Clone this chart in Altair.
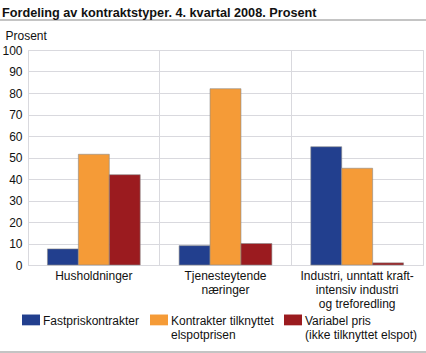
import altair as alt
import pandas as pd

categories = ["Husholdninger", "Tjenesteytende|næringer", "Industri, unntatt kraft-|intensiv industri|og treforedling"]
series = ["Fastpriskontrakter|", "Kontrakter tilknyttet|elspotprisen", "Variabel pris|(ikke tilknyttet elspot)"]
fastpris = [7.5, 9, 55]
elspot = [51.5, 82, 45]
variabel = [42, 10, 1]
colors = ["#223f8e", "#f59b37", "#9b1b1f"]
y_ticks = [0, 10, 20, 30, 40, 50, 60, 70, 80, 90, 100]

rows = []
for i, c in enumerate(categories):
    for s, vals in zip(series, [fastpris, elspot, variabel]):
        rows.append({"kategori": c, "serie": s, "verdi": vals[i]})
df = pd.DataFrame(rows)

FONT = "Liberation Sans"
W, H = 395, 215

bars = alt.Chart(df).mark_bar(stroke="#8a8a8a", strokeWidth=0.6).encode(
    x=alt.X("kategori:N", sort=categories, title=None,
            scale=alt.Scale(paddingInner=0, paddingOuter=0),
            axis=alt.Axis(labelExpr="split(datum.label, '|')", labelAngle=0,
                          labelFontSize=12, labelLineHeight=14, labelColor="#111",
                          labelFont=FONT, labelPadding=5, ticks=False, domain=False,
                          grid=True, bandPosition=0, gridColor="#d9d9de", gridWidth=1,
                          labelBaseline="top")),
    xOffset=alt.XOffset("serie:N", sort=series,
                        scale=alt.Scale(paddingInner=0, paddingOuter=0.629)),
    y=alt.Y("verdi:Q", scale=alt.Scale(domain=[0, 100], nice=False),
            axis=alt.Axis(values=y_ticks, title="Prosent", titleAngle=0, titleAlign="left",
                          titleBaseline="middle", titleX=-23, titleY=-15,
                          titleFontWeight="normal", titleFontSize=12, titleFont=FONT,
                          titleColor="#111",
                          labelFontSize=12, labelFont=FONT, labelColor="#111",
                          labelPadding=6, ticks=False, domain=False,
                          gridColor="#d9d9de", gridWidth=1)),
    color=alt.Color("serie:N", sort=series,
                    scale=alt.Scale(domain=series, range=colors),
                    legend=alt.Legend(title=None, orient="none", legendX=-6, legendY=47 + H,
                                      columns=3, columnPadding=10,
                                      symbolType="M-1,-0.72H1V0.48H-1Z", symbolSize=324,
                                      symbolStrokeWidth=0, symbolOpacity=1,
                                      labelExpr="split(datum.label, '|')",
                                      labelFontSize=12, labelFont=FONT, labelColor="#111",
                                      labelOffset=3, labelLimit=200)),
)

top_rule = alt.Chart(pd.DataFrame({"a": [0]})).mark_rule(color="#c4c4c4", strokeWidth=2).encode(
    x=alt.value(-28), x2=alt.value(W + 3), y=alt.value(-30))
bottom_rule = alt.Chart(pd.DataFrame({"a": [0]})).mark_rule(color="#c4c4c4", strokeWidth=2).encode(
    x=alt.value(-28), x2=alt.value(W + 3), y=alt.value(H + 87))

chart = alt.layer(bars, top_rule, bottom_rule).properties(
    width=W, height=H,
    autosize=alt.AutoSizeParams(type="none"),
    padding={"left": 28, "top": 50, "right": 3, "bottom": 88},
    title=alt.TitleParams("Fordeling av kontraktstyper. 4. kvartal 2008. Prosent",
                          anchor="start", frame="group", dx=-26, offset=8, dy=9,
                          fontSize=12.7, font=FONT, fontWeight="bold", color="#111"),
).configure_view(stroke="#d9d9de", strokeWidth=1)

chart.save("out.html", embed_options={"renderer": "svg", "actions": False})
